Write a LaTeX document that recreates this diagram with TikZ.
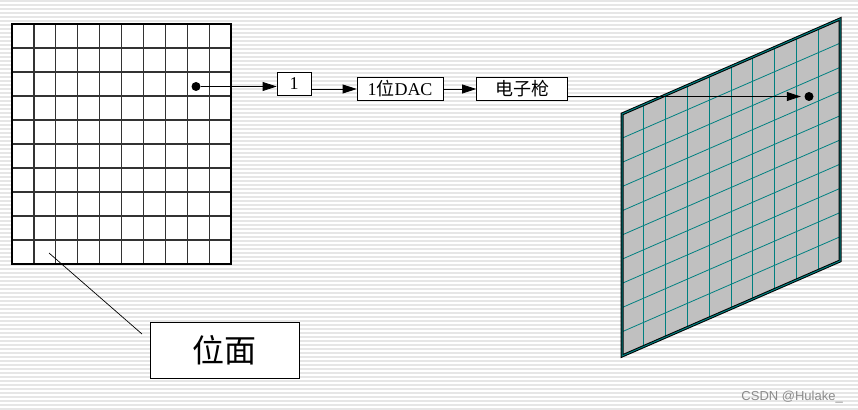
\documentclass[tikz,border=0pt]{standalone}
\usepackage{fontspec}
\setmainfont{Liberation Serif}
\newfontfamily\cjk{Noto Sans CJK SC}
\newfontfamily\wmfont{Liberation Sans}
\usetikzlibrary{arrows.meta,calc}
\definecolor{stripegray}{RGB}{230,230,230}
\definecolor{screengray}{RGB}{192,192,192}
\definecolor{gridteal}{RGB}{0,128,128}

\begin{document}
\begin{tikzpicture}[
    x=1pt, y=-1pt,
    >={Triangle[length=14pt,width=9pt]},
    blk/.style={
        draw=black, fill=white, line width=0.8pt, inner sep=0pt,
        minimum height=23.5pt, font=\fontsize{18}{18}\selectfont
    },
    flow/.style={->, line width=0.8pt},
    dot/.style={circle, fill=black, inner sep=0pt, minimum size=9pt}
]

% striped background
\useasboundingbox (0,0) rectangle (858,409);
\fill[white] (0,0) rectangle (858,409);
\foreach \y in {1,5,...,409}
    \draw[stripegray, line width=2pt] (0,\y) -- (858,\y);

% bit plane (left grid)
\fill[white] (12,24) rectangle (231,264);
\foreach \i in {1,...,9}
    \draw[black!80, line width=1.2pt] ({12+21.9*\i},24) -- ({12+21.9*\i},264);
\foreach \j in {1,...,9}
    \draw[black!80, line width=1.2pt] (12,{24+24*\j}) -- (231,{24+24*\j});
\draw[line width=2.2pt] (12,24) rectangle (231,264);

% screen
\coordinate (stl) at (622,114);
\coordinate (str) at (840,19);
\coordinate (sbr) at (840,261);
\coordinate (sbl) at (622,356);
\fill[screengray] (stl) -- (str) -- (sbr) -- (sbl) -- cycle;
\foreach \i in {1,...,9}
    \draw[gridteal, line width=0.8pt] ($(stl)!\i/10!(str)$) -- ($(sbl)!\i/10!(sbr)$);
\foreach \j in {1,...,9}
    \draw[gridteal, line width=0.8pt] ($(stl)!\j/10!(sbl)$) -- ($(str)!\j/10!(sbr)$);
\draw[black, line width=3pt] (stl) -- (str) -- (sbr) -- (sbl) -- cycle;
\draw[gridteal, line width=1pt] (stl) -- (str) -- (sbr) -- (sbl) -- cycle;

% chain
\node[dot] (pix) at (196,86.5) {};
\node[blk, minimum width=34pt] (bit) at (294,84) {1};
\node[blk, minimum width=86pt] (dac) at (400,89) {1{\cjk 位}DAC};
\node[blk, minimum width=91pt] (gun) at (522,89) {{\cjk 电子枪}};
\node[dot] (spot) at (809,96.5) {};

\draw[flow] (pix) -- (pix -| bit.west);
\draw[flow] (bit.east |- dac) -- (dac.west);
\draw[flow] (dac.east) -- (gun.west);
\draw[flow, shorten >=3.5pt] (gun.east |- spot) -- (spot.west);

% label
\node[draw, fill=white, line width=0.8pt, minimum width=149pt, minimum height=55.5pt,
    inner sep=0pt, font=\cjk\fontsize{32}{32}\selectfont] (plane) at (224.8,350.3) {位面};
\coordinate (lbla) at (49,253);
\coordinate (lblb) at (142,334);
\draw[line width=0.7pt] (lbla) -- (lblb);

\node[anchor=base east, text=black!45, inner sep=0pt,
    font=\wmfont\fontsize{13}{13}\selectfont] (wm) at (843,400) {CSDN @Hulake\_};

\end{tikzpicture}
\end{document}
